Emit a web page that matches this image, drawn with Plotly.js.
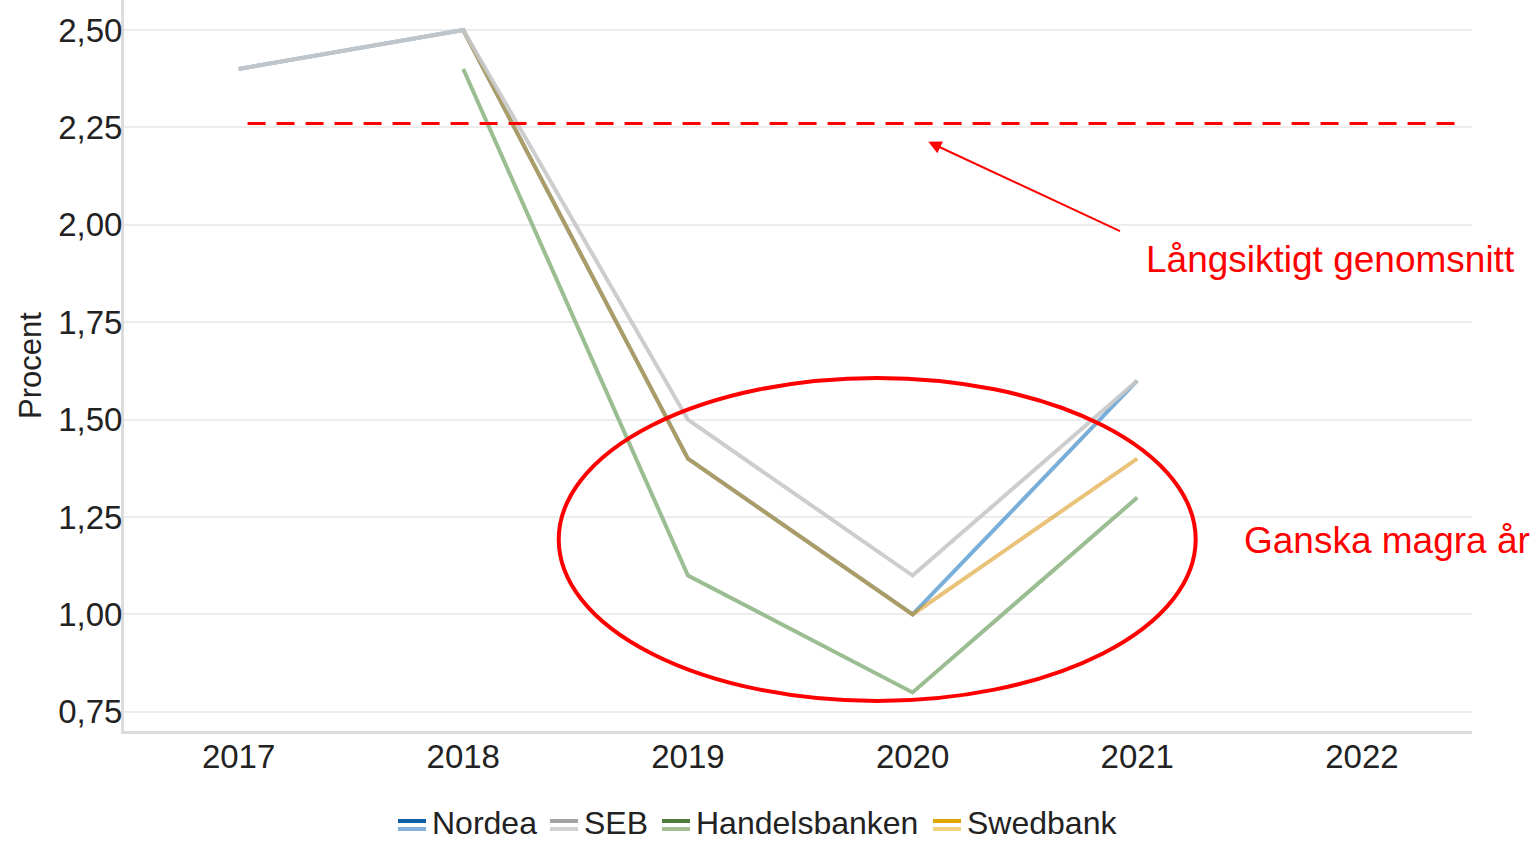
<!DOCTYPE html>
<html>
<head>
<meta charset="utf-8">
<script src="https://cdn.plot.ly/plotly-3.0.1.min.js"></script>
<style>html,body{margin:0;padding:0;background:#fff;}#chart{width:1536px;height:842px;}</style>
</head>
<body>
<div id="chart"></div>
<script>
const years = [2017, 2018, 2019, 2020, 2021, 2022];
const nordea = [2.40, 2.50, 1.40, 1.00, 1.60, null];
const seb = [2.40, 2.50, 1.50, 1.10, 1.60, null];
const handelsbanken = [null, 2.40, 1.10, 0.80, 1.30, null];
const swedbank = [null, 2.50, 1.40, 1.00, 1.40, null];
const yTicks = [0.75, 1.00, 1.25, 1.50, 1.75, 2.00, 2.25, 2.50];
const yTickText = ["0,75", "1,00", "1,25", "1,50", "1,75", "2,00", "2,25", "2,50"];
const longTermAverage = 2.26;
const legendNames = ["Nordea", "SEB", "Handelsbanken", "Swedbank"];
const legendDark = ["#0f5fa6", "#a3a3a3", "#4e7d3c", "#dea600"];
const legendLight = ["#82b3dc", "#d2d2d2", "#a3c095", "#f0d283"];

const traces = [
  {x: years, y: nordea, name: "Nordea", mode: "lines", line: {color: "rgb(105,165,212)", width: 4}, opacity: 0.9},
  {x: years, y: handelsbanken, name: "Handelsbanken", mode: "lines", line: {color: "rgb(150,185,140)", width: 4}, opacity: 0.95},
  {x: years, y: swedbank, name: "Swedbank", mode: "lines", line: {color: "rgb(215,140,0)", width: 4}, opacity: 0.52},
  {x: years, y: seb, name: "SEB", mode: "lines", line: {color: "rgb(200,200,200)", width: 4}, opacity: 0.9}
];

const PW = 1348, PH = 731, L = 124;
const shapes = [
  {type: "line", xref: "x", yref: "y", x0: 2017.04, x1: 2022.43, y0: longTermAverage, y1: longTermAverage,
   line: {color: "#ff0000", width: 3, dash: "18px,11px"}},
  {type: "circle", xref: "x", yref: "y", x0: 2018.425, x1: 2021.26, y0: 0.778, y1: 1.607,
   line: {color: "#ff0000", width: 4}}
];
const annotations = [
  {xref: "paper", yref: "paper", x: (1144 - L) / PW, y: (PH - 259) / PH, text: "Långsiktigt genomsnitt", showarrow: false,
   xanchor: "left", yanchor: "middle", font: {family: "Liberation Sans, Arial", size: 37, color: "#ff0000"}},
  {xref: "paper", yref: "paper", x: (1242 - L) / PW, y: (PH - 540) / PH, text: "Ganska magra år", showarrow: false,
   xanchor: "left", yanchor: "middle", font: {family: "Liberation Sans, Arial", size: 37, color: "#ff0000"}},
  {xref: "x", yref: "y", x: 2020.07, y: 2.213, ax: 2020.93, ay: 1.982, axref: "x", ayref: "y",
   text: "", showarrow: true, arrowhead: 2, arrowsize: 1.3, arrowwidth: 2, arrowcolor: "#ff0000", standoff: 0}
];

// custom legend with two-stripe symbols
const legX = [398, 550, 662, 933];
for (let i = 0; i < legendNames.length; i++) {
  const x0 = (legX[i] - L) / PW, x1 = (legX[i] + 28 - L) / PW;
  shapes.push({type: "line", xref: "paper", yref: "paper", x0: x0, x1: x1,
    y0: (PH - 821) / PH, y1: (PH - 821) / PH, line: {color: legendDark[i], width: 4}});
  shapes.push({type: "line", xref: "paper", yref: "paper", x0: x0, x1: x1,
    y0: (PH - 829) / PH, y1: (PH - 829) / PH, line: {color: legendLight[i], width: 4}});
  annotations.push({xref: "paper", yref: "paper", x: (legX[i] + 33 - L) / PW, y: (PH - 823) / PH,
    text: legendNames[i], showarrow: false, xanchor: "left", yanchor: "middle", borderpad: 0,
    font: {family: "Liberation Sans, Arial", size: 32, color: "#222"}});
}

const layout = {
  width: 1536, height: 842,
  margin: {l: L, r: 64, t: 0, b: 111},
  paper_bgcolor: "#fff", plot_bgcolor: "#fff",
  showlegend: false,
  font: {family: "Liberation Sans, Arial", color: "#222"},
  xaxis: {range: [2016.49, 2022.49], tickvals: years, ticktext: years.map(String), showgrid: false,
    zeroline: false, showline: true, linecolor: "#dcdcdc", linewidth: 3, ticks: "",
    tickfont: {size: 33, color: "#222"}, ticklabelstandoff: -6},
  yaxis: {range: [0.701, 2.577], tickvals: yTicks, ticktext: yTickText, showgrid: true, gridcolor: "#ececec",
    gridwidth: 2, zeroline: false, showline: true, linecolor: "#dcdcdc", linewidth: 3, ticks: "",
    tickfont: {size: 33, color: "#222"}, ticklabelstandoff: -8,
    title: {text: "Procent", font: {size: 31, color: "#222"}, standoff: 8}},
  shapes: shapes,
  annotations: annotations
};
Plotly.newPlot("chart", traces, layout, {displayModeBar: false, staticPlot: true});
</script>
</body>
</html>
